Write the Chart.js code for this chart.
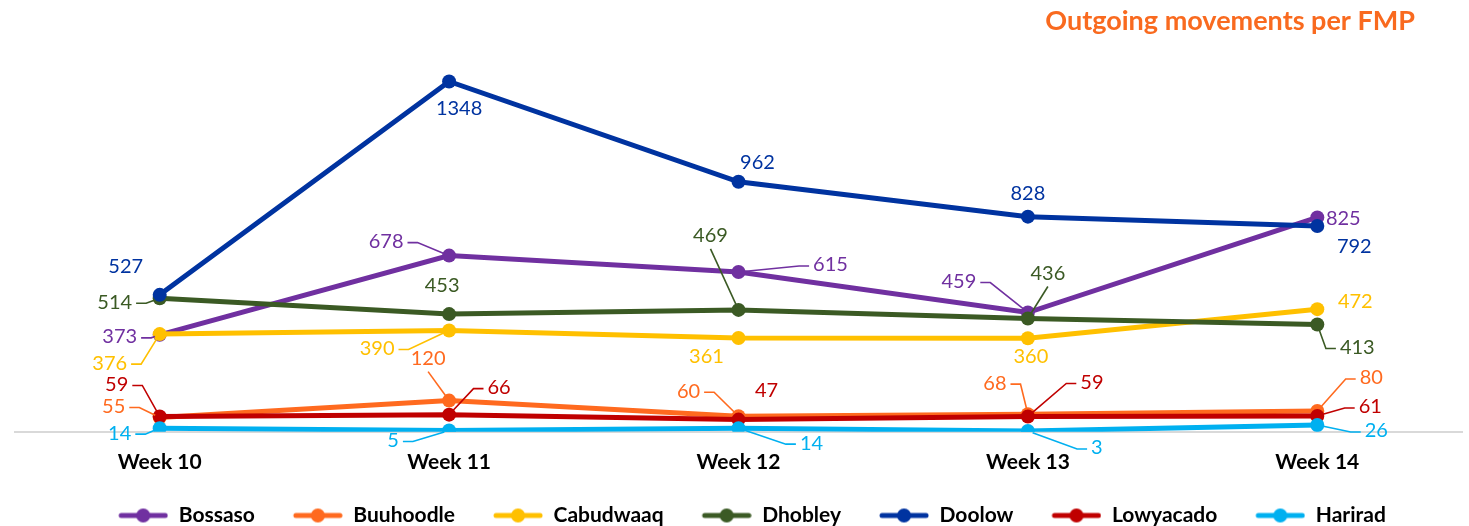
<!DOCTYPE html>
<html>
<head>
<meta charset="utf-8">
<script src="https://cdn.jsdelivr.net/npm/chart.js@4.4.0/dist/chart.umd.min.js"></script>
<style>
  html, body { margin: 0; padding: 0; background: #fff; }
  #wrap { width: 1469px; height: 526px; position: relative; }
</style>
</head>
<body>
<div id="wrap"><canvas id="fmpChart"></canvas></div>
<script>
const weeks = ["Week 10", "Week 11", "Week 12", "Week 13", "Week 14"];
const seriesNames = ["Bossaso", "Buuhoodle", "Cabudwaaq", "Dhobley", "Doolow", "Lowyacado", "Harirad"];
const bossaso = [373, 678, 615, 459, 825];
const buuhoodle = [55, 120, 60, 68, 80];
const cabudwaaq = [376, 390, 361, 360, 472];
const dhobley = [514, 453, 469, 436, 413];
const doolow = [527, 1348, 962, 828, 792];
const lowyacado = [59, 66, 47, 59, 61];
const harirad = [14, 5, 14, 3, 26];

const colors = ["#7030A0", "#FF6A1F", "#FFC000", "#3B5A24", "#0033A0", "#C00000", "#00B0F0"];

// label placement: [dx, dy, leader] relative to the point; leader "h" = elbow, "v" = straight
const labelPos = [
    [[-40, 2, "h"], [-63, -14, "h"], [92, -7, "h"], [-69, -31, "h"], [26, 1, ""]],
    [[-46, -11, "h"], [-21, -42, "v"], [-50, -25, "h"], [-33, -31, "h"], [54, -33, "h"]],
    [[-50, 29, "h"], [-72, 18, "h"], [-32, 19, ""], [3, 18, ""], [38, -8, ""]],
    [[-45, 4, "h"], [-7, -29, ""], [-28, -74, "v"], [20, -45, "v"], [40, 23, "h"]],
    [[-34, -28, ""], [10, 27, ""], [19, -19, ""], [0, -23, ""], [37, 21, ""]],
    [[-43, -32, "h"], [50, -27, "h"], [28, -29, ""], [64, -34, "h"], [53, -9, "h"]],
    [[-40, 5, "h"], [-56, 10, "h"], [73, 15, "h"], [69, 17, "h"], [59, 6, "h"]]
];

const allValues = [bossaso, buuhoodle, cabudwaaq, dhobley, doolow, lowyacado, harirad];

// legend marker: blank lead-in, then line with a dot
function legendMarker(color) {
    const c = document.createElement("canvas");
    c.width = 76;
    c.height = 16;
    const g = c.getContext("2d");
    g.strokeStyle = color;
    g.lineWidth = 5;
    g.lineCap = "round";
    g.beginPath();
    g.moveTo(29, 8);
    g.lineTo(73, 8);
    g.stroke();
    g.fillStyle = color;
    g.beginPath();
    g.arc(51, 8, 7, 0, Math.PI * 2);
    g.fill();
    return c;
}

const markers = colors.map(legendMarker);

const dataLabels = {
    id: "dataLabels",
    afterDatasetsDraw(chart) {
        const ctx = chart.ctx;
        ctx.save();
        ctx.font = "20px Lato";
        ctx.textAlign = "center";
        ctx.textBaseline = "middle";
        chart.data.datasets.forEach((ds, di) => {
            const meta = chart.getDatasetMeta(di);
            meta.data.forEach((pt, i) => {
                const [dx, dy, leader] = labelPos[di][i];
                const lx = pt.x + dx;
                const ly = pt.y + dy;
                const text = String(ds.data[i]);
                const w = ctx.measureText(text).width;
                ctx.strokeStyle = colors[di];
                ctx.lineWidth = 1.6;
                if (leader === "h") {
                    const dir = dx < 0 ? 1 : -1;
                    const sx = lx + dir * (w / 2 + 4);
                    const ex = sx + dir * 10;
                    const ey = ly + 1;
                    const vx = pt.x - ex, vy = pt.y - ey;
                    const len = Math.hypot(vx, vy) || 1;
                    ctx.beginPath();
                    ctx.moveTo(sx, ey);
                    ctx.lineTo(ex, ey);
                    ctx.lineTo(pt.x - vx / len * 5, pt.y - vy / len * 5);
                    ctx.stroke();
                } else if (leader === "v") {
                    const sy = ly + (dy < 0 ? 13 : -13);
                    const vx = pt.x - lx, vy = pt.y - sy;
                    const len = Math.hypot(vx, vy) || 1;
                    ctx.beginPath();
                    ctx.moveTo(lx, sy);
                    ctx.lineTo(pt.x - vx / len * 5, pt.y - vy / len * 5);
                    ctx.stroke();
                }
                ctx.fillStyle = colors[di];
                ctx.fillText(text, lx, ly);
            });
        });
        ctx.restore();
    }
};

const cornerTitle = {
    id: "cornerTitle",
    afterDraw(chart) {
        const ctx = chart.ctx;
        ctx.save();
        ctx.font = "bold 27px Lato";
        ctx.fillStyle = "#F96A1F";
        ctx.textAlign = "right";
        ctx.textBaseline = "middle";
        ctx.fillText("Outgoing movements per FMP", chart.width - 54, 21);
        ctx.restore();
    }
};

const ctx = document.getElementById("fmpChart").getContext("2d");

new Chart(ctx, {
    type: "line",
    data: {
        labels: weeks,
        datasets: seriesNames.map((name, i) => ({
            label: name,
            data: allValues[i],
            borderColor: colors[i],
            backgroundColor: colors[i],
            pointBackgroundColor: colors[i],
            borderWidth: 5,
            pointRadius: 7,
            pointBorderWidth: 0,
            tension: 0,
            order: seriesNames.length - i
        }))
    },
    options: {
        responsive: true,
        maintainAspectRatio: false,
        animation: false,
        layout: { padding: { top: 42, left: 15, right: 6, bottom: -10 } },
        scales: {
            x: {
                offset: true,
                grid: { display: false, drawTicks: false },
                border: { color: "#d9d9d9", width: 2 },
                ticks: { color: "#000", padding: 18, font: { family: "Lato", weight: "bold", size: 21 } }
            },
            y: { display: false, min: 0, max: 1500 }
        },
        plugins: {
            tooltip: { enabled: false },
            legend: {
                position: "bottom",
                labels: {
                    color: "#000",
                    font: { family: "Lato", weight: "bold", size: 21 },
                    usePointStyle: true,
                    pointStyleWidth: 76,
                    padding: 12,
                    generateLabels(chart) {
                        return chart.data.datasets.map((ds, i) => ({
                            text: ds.label,
                            pointStyle: markers[i],
                            fillStyle: colors[i],
                            strokeStyle: colors[i],
                            lineWidth: 0,
                            hidden: false,
                            datasetIndex: i,
                            fontColor: "#000"
                        }));
                    }
                }
            }
        }
    },
    plugins: [dataLabels, cornerTitle]
});
</script>
</body>
</html>
